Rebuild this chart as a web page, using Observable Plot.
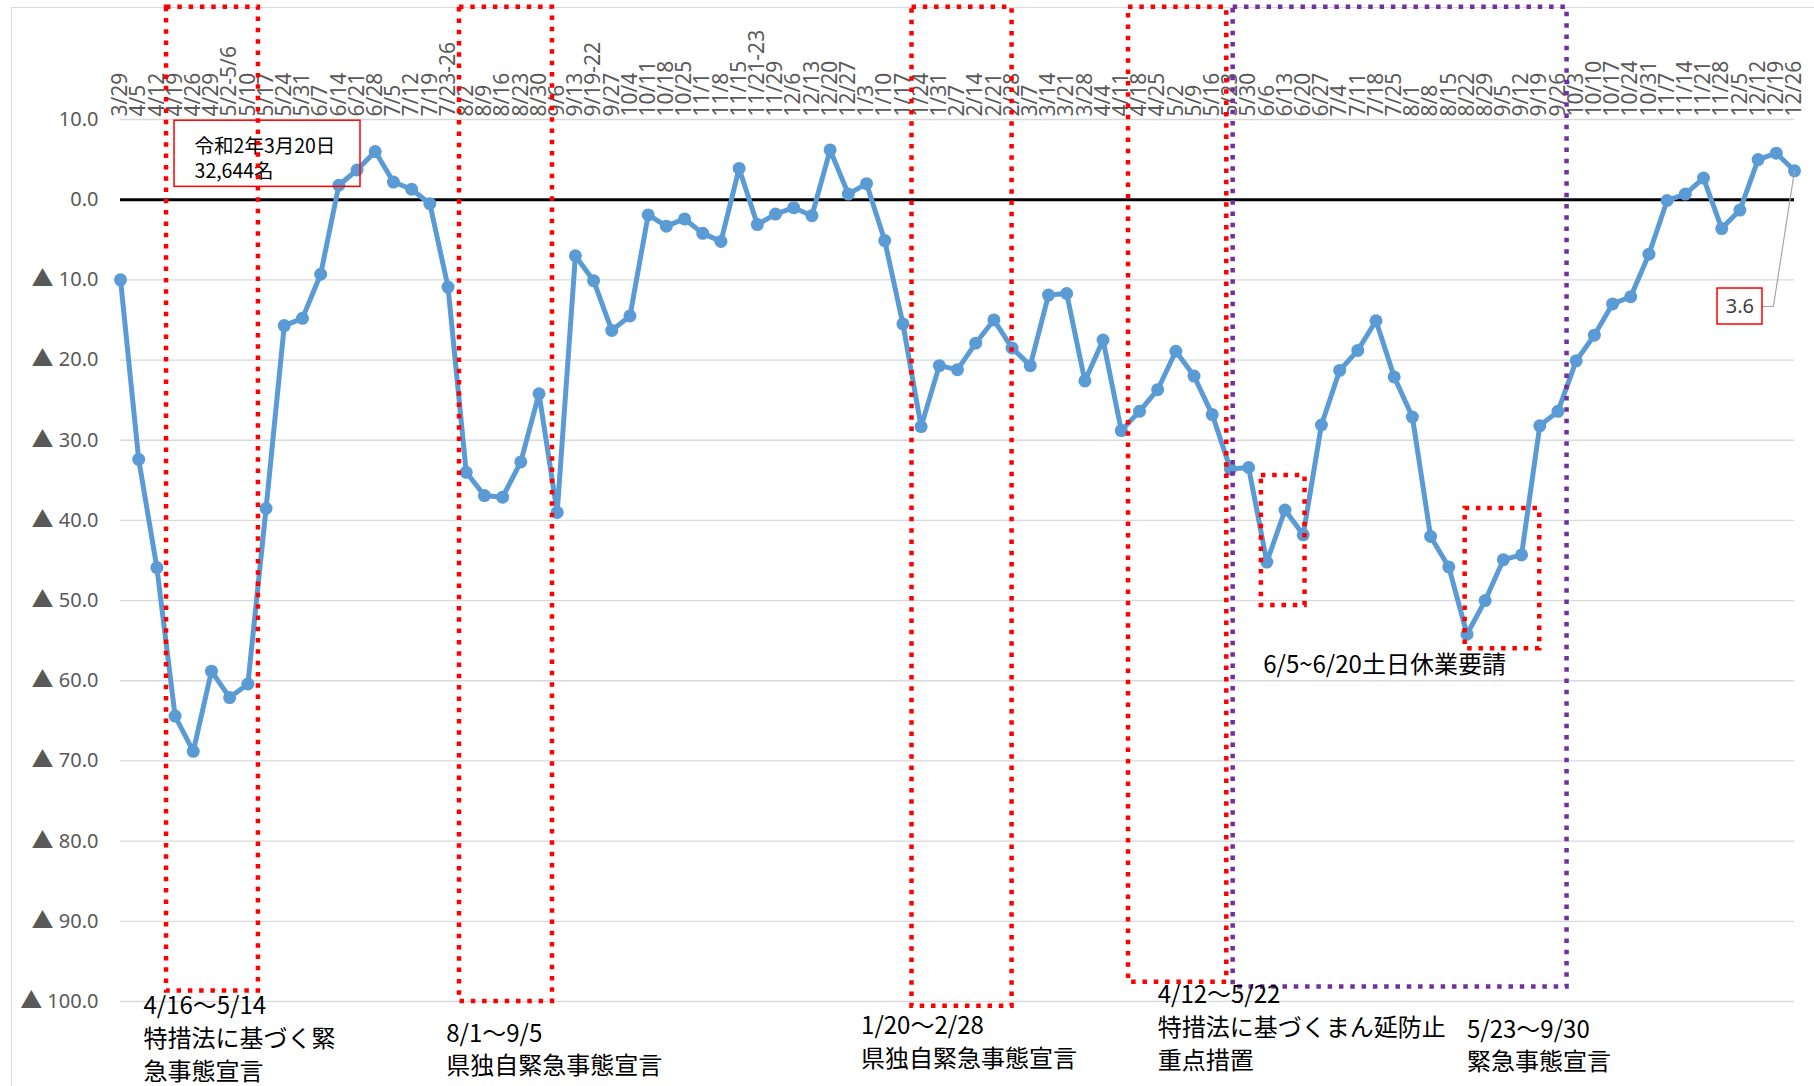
<!DOCTYPE html>
<html><head><meta charset="utf-8">
<script src="https://cdn.jsdelivr.net/npm/d3@7"></script>
<script src="https://cdn.jsdelivr.net/npm/@observablehq/plot@0.6"></script>
<style>
html,body{margin:0;padding:0;background:#fff;overflow:hidden;}
#wrap{position:relative;width:1814px;height:1086px;}
#border{position:absolute;left:11px;top:7px;width:1900px;height:1200px;border-left:1.3px solid #d9d9d9;border-top:1.3px solid #d9d9d9;}
#chart{position:absolute;left:0;top:0;}
</style></head><body><div id="wrap"><div id="border"></div><div id="chart"></div></div>
<script>
const labels = ["3/29","4/5","4/12","4/19","4/26","4/29","5/2-5/6","5/10","5/17","5/24","5/31","6/7","6/14","6/21","6/28","7/5","7/12","7/19","7/23-26","8/2","8/9","8/16","8/23","8/30","9/6","9/13","9/19-22","9/27","10/4","10/11","10/18","10/25","11/1","11/8","11/15","11/21-23","11/29","12/6","12/13","12/20","12/27","1/3","1/10","1/17","1/24","1/31","2/7","2/14","2/21","2/28","3/7","3/14","3/21","3/28","4/4","4/11","4/18","4/25","5/2","5/9","5/16","5/23","5/30","6/6","6/13","6/20","6/27","7/4","7/11","7/18","7/25","8/1","8/8","8/15","8/22","8/29","9/5","9/12","9/19","9/26","10/3","10/10","10/17","10/24","10/31","11/7","11/14","11/21","11/28","12/5","12/12","12/19","12/26"];
const values = [-10.0,-32.4,-45.9,-64.4,-68.8,-58.8,-62.1,-60.4,-38.5,-15.7,
 -14.8,-9.3,1.8,3.7,6.0,2.2,1.3,-0.5,-10.9,-34.0,
 -36.9,-37.1,-32.7,-24.2,-39.0,-7.0,-10.1,-16.3,-14.5,-1.9,
 -3.3,-2.4,-4.2,-5.2,3.9,-3.1,-1.8,-1.0,-2.0,6.2,
 0.7,2.0,-5.1,-15.5,-28.3,-20.7,-21.2,-17.9,-15.0,-18.5,
 -20.7,-11.9,-11.7,-22.6,-17.5,-28.8,-26.4,-23.7,-18.9,-22.0,
 -26.8,-33.6,-33.4,-45.2,-38.7,-41.8,-28.1,-21.3,-18.8,-15.1,
 -22.1,-27.1,-42.0,-45.8,-54.2,-50.0,-44.9,-44.3,-28.2,-26.4,
 -20.1,-16.9,-13.0,-12.1,-6.8,-0.1,0.7,2.7,-3.6,-1.3,
 5.0,5.8,3.6];
const yTicks = [10,0,-10,-20,-30,-40,-50,-60,-70,-80,-90,-100];

// annotation frames (x in category index units, y in value units)
const redPeriods = [
 {x1:2.53,x2:7.58,y1:-98.7,y2:24},
 {x1:18.63,x2:23.74,y1:-100,y2:24},
 {x1:43.5,x2:49.0,y1:-100.6,y2:24},
 {x1:55.4,x2:60.8,y1:-97.6,y2:24},
 {x1:62.7,x2:65.1,y1:-50.6,y2:-34.4},
 {x1:73.9,x2:78.0,y1:-56.0,y2:-38.5}
];
const purplePeriods = [{x1:61.15,x2:79.5,y1:-98.2,y2:24}];
const notes = [
 {x:1.26,y:-98.7,text:"4/16～5/14\n特措法に基づく緊\n急事態宣言"},
 {x:17.9,y:-102.1,text:"8/1～9/5\n県独自緊急事態宣言"},
 {x:40.7,y:-101.2,text:"1/20～2/28\n県独自緊急事態宣言"},
 {x:57.0,y:-97.35,text:"4/12～5/22\n特措法に基づくまん延防止\n重点措置"},
 {x:74.0,y:-101.6,text:"5/23～9/30\n緊急事態宣言"}
];
const midNote = [{x:62.8,y:-58.1,text:"6/5~6/20土日休業要請"}];
const baseBox = [{x1:2.97,x2:13.19,y1:1.6,y2:9.85}];
const baseText = [{x:4.07,y:8.0,text:"令和2年3月20日\n32,644名"}];
const lastLabelBox = [{x1:87.77,x2:90.24,y1:-15.57,y2:-11.08}];
const lastLabel = [{x:89.0,y:-13.32,text:values[values.length-1].toFixed(1)}];
const leader = [{x:90.24,y:-13.32},{x:90.84,y:-13.32},{x:values.length-1,y:values[values.length-1]}];

const idx = d3.range(values.length);
const dotted = {fill:"none", strokeWidth:4.5, strokeDasharray:"4.5,6.8"};
const jp = "'Noto Sans CJK JP', sans-serif";

const plot = Plot.plot({
 width:1814, height:1086, marginTop:119, marginBottom:85, marginLeft:120, marginRight:20,
 style:{background:"transparent", fontFamily:"'Noto Sans', sans-serif", overflow:"visible"},
 x:{type:"linear", domain:[0, values.length-1]},
 y:{domain:[-100,10]},
 marks:[
  Plot.gridY(yTicks.filter(d=>d!==0), {stroke:"#d9d9d9", strokeOpacity:1, strokeWidth:1.3}),
  Plot.axisY({ticks:yTicks, tickSize:0, tickPadding:22, fontSize:20, color:"#595959", label:null,
    tickFormat:d => d<0 ? "▲ "+(-d).toFixed(1) : d.toFixed(1)}),
  Plot.axisX({ticks:idx, anchor:"top", tickSize:0, tickPadding:3, tickRotate:-90, fontSize:21, color:"#595959", label:null,
    tickFormat:i => labels[i]}),
  Plot.ruleY([0], {stroke:"#000", strokeWidth:3}),
  Plot.lineY(values, {x:(d,i)=>i, y:d=>d, stroke:"#5B9BD5", strokeWidth:5, strokeLinejoin:"round"}),
  Plot.dot(values, {x:(d,i)=>i, y:d=>d, r:6.5, fill:"#5B9BD5", stroke:"none"}),
  Plot.rect(baseBox, {x1:"x1",x2:"x2",y1:"y1",y2:"y2", fill:"none", stroke:"#ff0000", strokeWidth:1.5}),
  Plot.text(baseText, {x:"x",y:"y",text:"text", textAnchor:"start", lineAnchor:"top", fontSize:19.5, lineHeight:1.26, fill:"#000", fontFamily:jp}),
  Plot.line(leader, {x:"x", y:"y", stroke:"#a6a6a6", strokeWidth:1.2}),
  Plot.rect(lastLabelBox, {x1:"x1",x2:"x2",y1:"y1",y2:"y2", fill:"#fff", stroke:"#ff0000", strokeWidth:1.5}),
  Plot.text(lastLabel, {x:"x",y:"y",text:"text", fontSize:20, fill:"#404040"}),
  Plot.rect(redPeriods, {x1:"x1",x2:"x2",y1:"y1",y2:"y2", stroke:"#ff0000", ...dotted}),
  Plot.rect(purplePeriods, {x1:"x1",x2:"x2",y1:"y1",y2:"y2", stroke:"#7030A0", ...dotted}),
  Plot.text(notes, {x:"x",y:"y",text:"text", textAnchor:"start", lineAnchor:"top", fontSize:24, lineHeight:1.36, fill:"#000", fontFamily:jp}),
  Plot.text(midNote, {x:"x",y:"y",text:"text", textAnchor:"start", lineAnchor:"middle", fontSize:24, fill:"#000", fontFamily:jp})
 ]
});
document.getElementById("chart").appendChild(plot);

// enlarge the ▲ glyph in y tick labels
plot.querySelectorAll('g[aria-label="y-axis tick label"] text').forEach(t => {
 const s = t.textContent;
 if (s.startsWith("▲")) {
  t.textContent = "";
  const a = document.createElementNS("http://www.w3.org/2000/svg","tspan");
  a.setAttribute("font-size","22"); a.setAttribute("font-family", jp);
  a.textContent = "▲";
  const b = document.createElementNS("http://www.w3.org/2000/svg","tspan");
  b.textContent = s.slice(1);
  t.appendChild(a); t.appendChild(b);
 }
});
</script></body></html>
